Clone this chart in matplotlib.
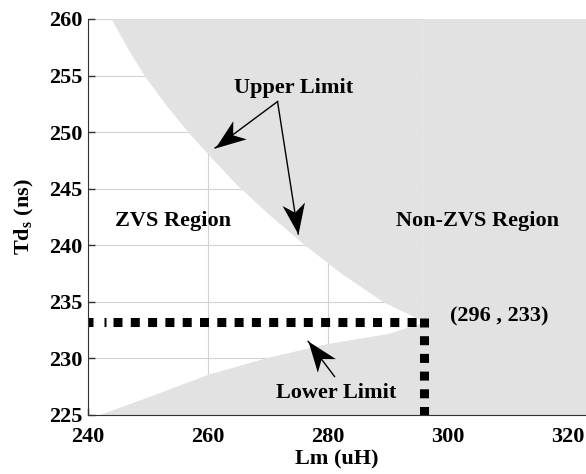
import math
import matplotlib
matplotlib.use('Agg')
import matplotlib.pyplot as plt
from matplotlib.path import Path
from matplotlib.markers import MarkerStyle
from matplotlib.transforms import Affine2D

# boundary curves
upper_lm = [243.9, 246.5, 249.4, 253.0, 256.7, 260.8, 264.7, 270.0, 276.2, 282.0, 289.2, 295.9]
upper_td = [260.0, 257.5, 255.0, 252.4, 250.0, 247.6, 245.4, 242.8, 240.0, 237.6, 235.0, 233.3]
lower_lm = [241.7, 250.0, 260.0, 270.0, 279.7, 290.0, 296.0]
lower_td = [225.0, 226.6, 228.6, 230.1, 231.3, 232.2, 233.2]

opt_lm = 296
opt_td = 233.2
dots_start = 244.2   # where the regular square dots begin

xlim = (240, 323)
ylim = (225, 260)
xticks = [240, 260, 280, 300, 320]
yticks = [225, 230, 235, 240, 245, 250, 255, 260]

plt.rcParams['font.family'] = 'Liberation Serif'
plt.rcParams['font.weight'] = 'bold'
plt.rcParams['axes.labelweight'] = 'bold'
plt.rcParams['font.size'] = 16

fig = plt.figure(figsize=(5.86, 4.74), dpi=100)
ax = fig.add_axes([0.150, 0.1245, 0.850, 0.8355])
ax.set_xlim(*xlim)
ax.set_ylim(*ylim)

gray = '#e2e2e2'
ax.set_axisbelow(True)
ax.grid(True, color='#d2d2d2', linewidth=0.8)
ax.fill_between(upper_lm, upper_td, ylim[1], color=gray, linewidth=0, zorder=1)
ax.fill_between(lower_lm, ylim[0], lower_td, color=gray, linewidth=0, zorder=1)
ax.axvspan(opt_lm, xlim[1], color=gray, linewidth=0, zorder=1)

lw = 6.5
u = 72 / 100 / lw   # pixels -> dash units
ax.plot([xlim[0], dots_start], [opt_td, opt_td], color='black', linewidth=lw,
        dashes=[5 * u, 11 * u, 2 * u, 50 * u], dash_capstyle='butt', zorder=3)
ax.plot([dots_start, opt_lm], [opt_td, opt_td], color='black', linewidth=lw,
        dashes=[9 * u, 8.3 * u], dash_capstyle='butt', zorder=3)
ax.plot([opt_lm, opt_lm], [opt_td + 0.4, ylim[0]], color='black', linewidth=lw,
        dashes=[9 * u, 8.7 * u], dash_capstyle='butt', zorder=3)

ax.set_xticks(xticks)
ax.set_yticks(yticks)
ax.tick_params(direction='in', length=5, width=1, colors='#333333', labelcolor='black')
ax.tick_params(axis='x', pad=8.5)
ax.tick_params(axis='y', pad=4)
ax.spines['top'].set_visible(False)
ax.spines['right'].set_visible(False)
ax.spines['left'].set_color('#333333')
ax.spines['bottom'].set_color('#333333')
for s in ['left', 'bottom']:
    ax.spines[s].set_zorder(4)

ax.set_xlabel('Lm (uH)', labelpad=2)
ax.set_ylabel(r'Td$_\mathregular{s}$ (ns)', labelpad=9)

ax.text(254.2, 242.1, 'ZVS Region', ha='center', va='center')
ax.text(305.0, 242.1, 'Non-ZVS Region', ha='center', va='center')
ax.text(308.5, 233.7, '(296 , 233)', ha='center', va='center')

# notched arrow head as a marker
head_path = Path([(0, 0), (-1, 0.37), (-0.72, 0), (-1, -0.37), (0, 0)],
                 [Path.MOVETO, Path.LINETO, Path.LINETO, Path.LINETO, Path.CLOSEPOLY])


def arrow(tail, tip):
    p1 = ax.transData.transform(tail)
    p2 = ax.transData.transform(tip)
    ang = math.degrees(math.atan2(p2[1] - p1[1], p2[0] - p1[0]))
    ax.plot([tail[0], tip[0]], [tail[1], tip[1]], color='black', linewidth=1, zorder=5)
    m = MarkerStyle(head_path, transform=Affine2D().rotate_deg(ang))
    ax.plot([tip[0]], [tip[1]], marker=m, markersize=44, color='black',
            markeredgewidth=0, linestyle='none', zorder=6)


ax.text(274.3, 253.9, 'Upper Limit', ha='center', va='center')
arrow((271.6, 252.7), (261.2, 248.6))
arrow((271.6, 252.7), (275.05, 241.0))

ax.text(281.4, 226.9, 'Lower Limit', ha='center', va='center')
arrow((281.1, 228.4), (276.7, 231.5))

fig.savefig('out.png', dpi=100)
